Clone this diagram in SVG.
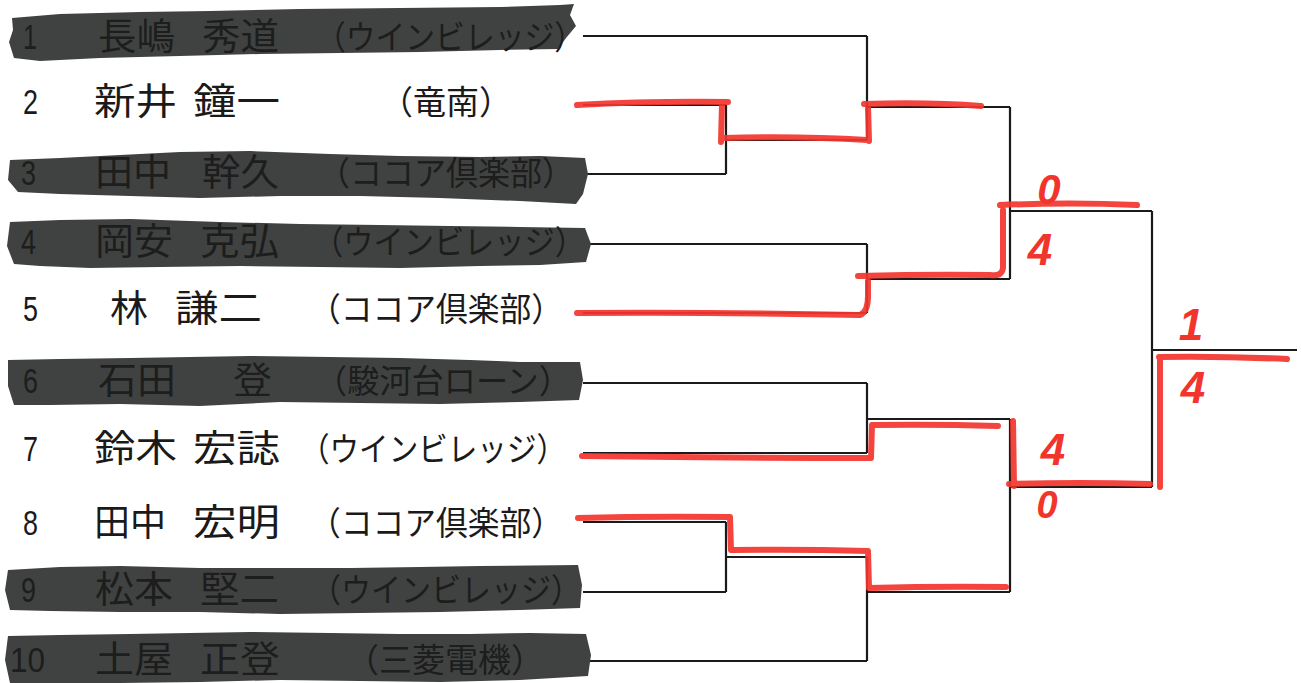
<svg xmlns="http://www.w3.org/2000/svg" width="1301" height="683" viewBox="0 0 1301 683">
<style>
.num{font-family:"Liberation Sans",Arial,sans-serif;font-size:35px;fill:#1a1a1a}
.nm{font-family:"Noto Sans CJK JP","Noto Sans CJK SC",sans-serif;font-size:37px;fill:#1a1a1a}
.af{font-family:"Noto Sans CJK JP","Noto Sans CJK SC",sans-serif;font-size:33px;fill:#1a1a1a}
.hid text{fill:#1c1d1c}
.blob{fill:#404241}
.ln{fill:none;stroke:#1a1a1a;stroke-width:2.2}
.rd{fill:none;stroke:#f2352c;stroke-width:6;stroke-linecap:round;stroke-linejoin:round;opacity:0.92}
.sc{font-family:"Liberation Sans",Arial,sans-serif;font-weight:bold;font-style:italic;fill:#f2352c}
</style>
<rect width="1301" height="683" fill="#ffffff"/>

<g id="connectors">
  <path class="ln" d="M583,36H867M583,105H726M583,174H726M583,244H867M583,313H867M583,383H867M583,453H867M583,522H726M583,592H726M583,661H867"/>
  <path class="ln" d="M726,105V174M726,140H867M726,522V592M726,557H867"/>
  <path class="ln" d="M867,36V140M867,107H1010M867,244V313M867,279H1010M867,383V453M867,419H1010M867,557V661M867,592H1010"/>
  <path class="ln" d="M1010,107V279M1010,211H1152M1010,419V592M1010,487H1152M1152,211V487M1152,350H1297"/>
  <g id="winner-paths">
    <path class="rd" d="M577,105Q650,101 728,102M722,104L721,142M723,138Q800,136 867,140M869,141L868,106M864,104Q930,102 981,106"/>
    <path class="rd" d="M577,313Q720,312 860,315Q868,312 868,296L868,281M858,276Q930,274 990,275Q1002,277 1003,268L1003,210M1000,205Q1070,202 1137,205"/>
    <path class="rd" d="M582,456Q730,458 871,458L872,425Q935,424 998,426M1013,421L1014,486M1009,484Q1080,482 1150,484M1160,487L1160,357M1159,357Q1220,356 1287,359"/>
    <path class="rd" d="M578,518Q650,516 730,517L731,550Q800,549 868,551L869,588Q940,586 1006,587"/>
  </g>
</g>

<g id="scores">
  <text class="sc" x="1049" y="204" font-size="42" text-anchor="middle">0</text>
  <text class="sc" x="1040" y="265" font-size="44" text-anchor="middle">4</text>
  <text class="sc" x="1191" y="340" font-size="44" text-anchor="middle">1</text>
  <text class="sc" x="1193" y="403" font-size="44" text-anchor="middle">4</text>
  <text class="sc" x="1053" y="465" font-size="44" text-anchor="middle">4</text>
  <text class="sc" x="1047" y="518" font-size="38" text-anchor="middle">0</text>
</g>

<g id="p1" class="hid">
  <path class="blob" d="M12,18L60,14L140,12L210,11L300,9L400,8L500,7L560,5L574,4L570,15L576,26L566,38L558,49L500,50L420,52L340,53L260,54L180,56L100,58L40,61L14,58L9,42L13,30Z"/>
  <text class="num" x="23" y="49" textLength="14" lengthAdjust="spacingAndGlyphs">1</text>
  <text class="nm" x="98" y="50" textLength="77" lengthAdjust="spacingAndGlyphs">長嶋</text>
  <text class="nm" x="202" y="50" textLength="77" lengthAdjust="spacingAndGlyphs">秀道</text>
  <text class="af" x="316" y="49" textLength="268" lengthAdjust="spacingAndGlyphs">（ウインビレッジ）</text>
</g>
<g id="p2">
  <text class="num" x="23" y="114" textLength="15" lengthAdjust="spacingAndGlyphs">2</text>
  <text class="nm" x="94" y="115" textLength="83" lengthAdjust="spacingAndGlyphs">新井</text>
  <text class="nm" x="193" y="115" textLength="87" lengthAdjust="spacingAndGlyphs">鐘一</text>
  <text class="af" x="380" y="114" textLength="132" lengthAdjust="spacingAndGlyphs">（竜南）</text>
</g>
<g id="p3" class="hid">
  <path class="blob" d="M10,160L60,158L120,155L180,152L250,151L330,154L400,156L480,157L540,156L585,158L588,174L583,194L576,204L520,201L440,198L360,196L280,196L200,198L130,196L60,194L18,192L8,180Z"/>
  <text class="num" x="21" y="185" textLength="15" lengthAdjust="spacingAndGlyphs">3</text>
  <text class="nm" x="95" y="186" textLength="76" lengthAdjust="spacingAndGlyphs">田中</text>
  <text class="nm" x="202" y="186" textLength="77" lengthAdjust="spacingAndGlyphs">幹久</text>
  <text class="af" x="318" y="185" textLength="256" lengthAdjust="spacingAndGlyphs">（ココア倶楽部）</text>
</g>
<g id="p4" class="hid">
  <path class="blob" d="M10,222L60,220L130,219L220,222L300,224L380,225L450,226L520,227L585,228L591,244L586,262L540,265L480,266L400,268L320,267L240,266L160,267L90,268L40,266L14,264L7,246Z"/>
  <text class="num" x="21" y="254" textLength="15" lengthAdjust="spacingAndGlyphs">4</text>
  <text class="nm" x="95" y="255" textLength="78" lengthAdjust="spacingAndGlyphs">岡安</text>
  <text class="nm" x="200" y="255" textLength="79" lengthAdjust="spacingAndGlyphs">克弘</text>
  <text class="af" x="313" y="254" textLength="272" lengthAdjust="spacingAndGlyphs">（ウインビレッジ）</text>
</g>
<g id="p5">
  <text class="num" x="23" y="321" textLength="15" lengthAdjust="spacingAndGlyphs">5</text>
  <text class="nm" x="110" y="322" textLength="38" lengthAdjust="spacingAndGlyphs">林</text>
  <text class="nm" x="175" y="322" textLength="87" lengthAdjust="spacingAndGlyphs">謙二</text>
  <text class="af" x="309" y="321" textLength="254" lengthAdjust="spacingAndGlyphs">（ココア倶楽部）</text>
</g>
<g id="p6" class="hid">
  <path class="blob" d="M8,360L60,359L130,358L250,356L330,357L400,358L470,360L520,362L580,362L583,380L579,400L520,402L440,404L360,403L280,402L200,406L120,404L50,405L14,405L8,386Z"/>
  <text class="num" x="23" y="393" textLength="15" lengthAdjust="spacingAndGlyphs">6</text>
  <text class="nm" x="98" y="394" textLength="78" lengthAdjust="spacingAndGlyphs">石田</text>
  <text class="nm" x="233" y="394" textLength="39" lengthAdjust="spacingAndGlyphs">登</text>
  <text class="af" x="315" y="393" textLength="256" lengthAdjust="spacingAndGlyphs">（駿河台ローン）</text>
</g>
<g id="p7">
  <text class="num" x="23" y="461" textLength="15" lengthAdjust="spacingAndGlyphs">7</text>
  <text class="nm" x="94" y="462" textLength="83" lengthAdjust="spacingAndGlyphs">鈴木</text>
  <text class="nm" x="193" y="462" textLength="87" lengthAdjust="spacingAndGlyphs">宏誌</text>
  <text class="af" x="300" y="461" textLength="266" lengthAdjust="spacingAndGlyphs">（ウインビレッジ）</text>
</g>
<g id="p8">
  <text class="num" x="23" y="535" textLength="15" lengthAdjust="spacingAndGlyphs">8</text>
  <text class="nm" x="94" y="536" textLength="72" lengthAdjust="spacingAndGlyphs">田中</text>
  <text class="nm" x="193" y="536" textLength="87" lengthAdjust="spacingAndGlyphs">宏明</text>
  <text class="af" x="309" y="535" textLength="254" lengthAdjust="spacingAndGlyphs">（ココア倶楽部）</text>
</g>
<g id="p9" class="hid">
  <path class="blob" d="M8,570L60,567L120,566L200,568L280,568L350,568L420,567L480,566L578,565L582,585L580,608L520,610L440,612L360,613L280,614L200,612L120,612L50,611L10,610L5,590Z"/>
  <text class="num" x="21" y="602" textLength="15" lengthAdjust="spacingAndGlyphs">9</text>
  <text class="nm" x="95" y="603" textLength="78" lengthAdjust="spacingAndGlyphs">松本</text>
  <text class="nm" x="200" y="603" textLength="79" lengthAdjust="spacingAndGlyphs">堅二</text>
  <text class="af" x="311" y="602" textLength="270" lengthAdjust="spacingAndGlyphs">（ウインビレッジ）</text>
</g>
<g id="p10" class="hid">
  <path class="blob" d="M8,636L60,635L130,634L250,632L330,633L400,634L470,634L530,633L586,634L591,655L588,676L520,680L440,682L360,681L280,680L200,682L120,683L10,683L5,660Z"/>
  <text class="num" x="10" y="672" textLength="35" lengthAdjust="spacingAndGlyphs">10</text>
  <text class="nm" x="95" y="673" textLength="78" lengthAdjust="spacingAndGlyphs">土屋</text>
  <text class="nm" x="200" y="673" textLength="80" lengthAdjust="spacingAndGlyphs">正登</text>
  <text class="af" x="346" y="672" textLength="198" lengthAdjust="spacingAndGlyphs">（三菱電機）</text>
</g>
</svg>
